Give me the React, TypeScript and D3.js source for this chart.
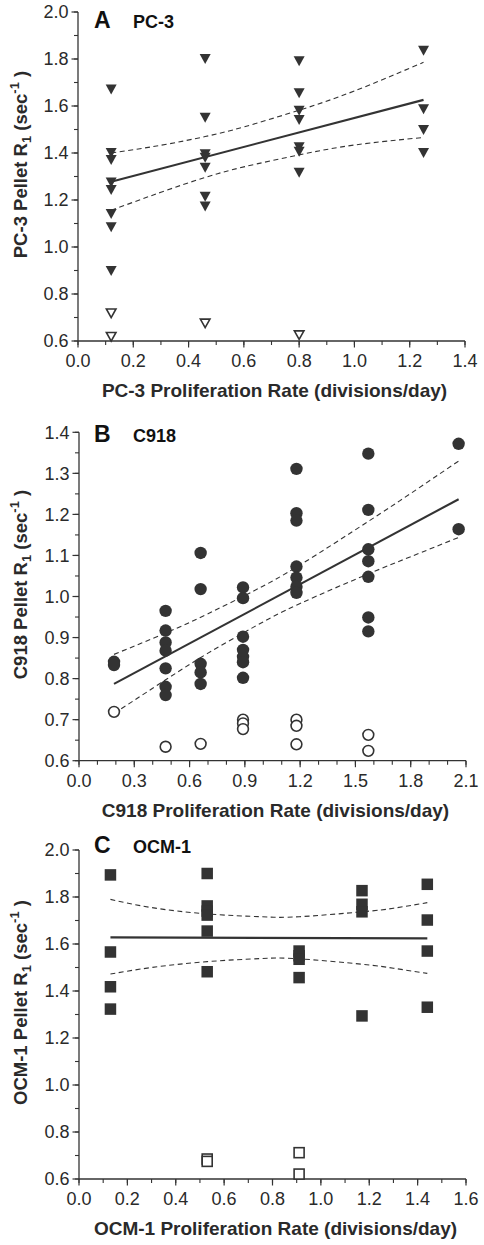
import React from "react";
import * as d3 from "d3";

// ---------- DATA ----------
// Panel A: PC-3
const pc3Rates = [0.12, 0.46, 0.8, 1.25];
const pc3Filled = [
  [1.67, 1.4, 1.37, 1.274, 1.243, 1.14, 1.084, 0.898],
  [1.8, 1.55, 1.395, 1.38, 1.337, 1.214, 1.172],
  [1.79, 1.654, 1.58, 1.54, 1.425, 1.405, 1.316],
  [1.835, 1.586, 1.498, 1.4],
];
const pc3Open = [[0.718, 0.618], [0.675], [0.625], []];
const pc3FitX = [0.12, 1.25];
const pc3FitY = [1.278, 1.626];
const pc3BandX = [0.12, 0.3, 0.46, 0.6, 0.8, 1.0, 1.25];
const pc3Upper = [1.4, 1.433, 1.47, 1.511, 1.582, 1.664, 1.786];
const pc3Lower = [1.156, 1.233, 1.296, 1.341, 1.392, 1.434, 1.466];

// Panel B: C918
const c918Rates = [0.19, 0.47, 0.66, 0.89, 1.18, 1.57, 2.06];
const c918Filled = [
  [0.841, 0.833],
  [0.965, 0.917, 0.888, 0.868, 0.825, 0.78, 0.76],
  [1.106, 1.018, 0.836, 0.815, 0.787],
  [1.022, 0.996, 0.902, 0.87, 0.853, 0.84, 0.802],
  [1.311, 1.203, 1.185, 1.073, 1.046, 1.024, 1.009],
  [1.348, 1.211, 1.115, 1.086, 1.048, 0.949, 0.915],
  [1.372, 1.164],
];
const c918Open = [[0.719], [0.634], [0.641], [0.7, 0.691, 0.677], [0.7, 0.685, 0.64], [0.663, 0.624], []];
const c918FitX = [0.19, 2.06];
const c918FitY = [0.787, 1.237];
const c918BandX = [0.19, 0.47, 0.7, 0.95, 1.2, 1.57, 1.8, 2.06];
const c918Upper = [0.859, 0.911, 0.958, 1.014, 1.077, 1.183, 1.251, 1.33];
const c918Lower = [0.715, 0.797, 0.862, 0.926, 0.983, 1.055, 1.097, 1.144];

// Panel C: OCM-1
const ocmRates = [0.13, 0.53, 0.91, 1.17, 1.44];
const ocmFilled = [
  [1.894, 1.566, 1.418, 1.323],
  [1.9, 1.762, 1.74, 1.723, 1.655, 1.482],
  [1.57, 1.55, 1.535, 1.457],
  [1.827, 1.769, 1.737, 1.294],
  [1.854, 1.702, 1.57, 1.331],
];
const ocmOpen = [[], [0.685, 0.675], [0.712, 0.621], [], []];
const ocmFitX = [0.13, 1.44];
const ocmFitY = [1.628, 1.624];
const ocmBandX = [0.13, 0.3, 0.53, 0.75, 0.91, 1.17, 1.3, 1.44];
const ocmUpper = [1.79, 1.755, 1.728, 1.716, 1.716, 1.737, 1.752, 1.776];
const ocmLower = [1.472, 1.5, 1.525, 1.538, 1.537, 1.514, 1.497, 1.475];

// Tick labels
const ticksA_x = [0, 0.2, 0.4, 0.6, 0.8, 1.0, 1.2, 1.4];
const ticksA_y = [0.6, 0.8, 1.0, 1.2, 1.4, 1.6, 1.8, 2.0];
const ticksB_x = [0, 0.3, 0.6, 0.9, 1.2, 1.5, 1.8, 2.1];
const ticksB_y = [0.6, 0.7, 0.8, 0.9, 1.0, 1.1, 1.2, 1.3, 1.4];
const ticksC_x = [0, 0.2, 0.4, 0.6, 0.8, 1.0, 1.2, 1.4, 1.6];
const ticksC_y = [0.6, 0.8, 1.0, 1.2, 1.4, 1.6, 1.8, 2.0];

// ---------- STYLE ----------
const FONT = "'Liberation Sans', Arial, Helvetica, sans-serif";
const INK = "#333333";
const TXT = "#2a2a2a";

type Panel = {
  letter: string;
  name: string;
  xTitle: string;
  yPrefix: string;
  box: { l: number; r: number; t: number; b: number };
  labelY: number;
  xDom: [number, number];
  yDom: [number, number];
  xTicks: number[];
  yTicks: number[];
  xMinor: number;
  yMinor: number;
  rates: number[];
  filled: number[][];
  open: number[][];
  fitX: number[];
  fitY: number[];
  bandX: number[];
  upper: number[];
  lower: number[];
  marker: "tri" | "circle" | "square";
};

const panels: Panel[] = [
  {
    letter: "A", name: "PC-3", xTitle: "PC-3 Proliferation Rate (divisions/day)", yPrefix: "PC-3",
    box: { l: 78, r: 465, t: 12, b: 341 }, labelY: 28,
    xDom: [0, 1.4], yDom: [0.6, 2.0], xTicks: ticksA_x, yTicks: ticksA_y, xMinor: 0.1, yMinor: 0.1,
    rates: pc3Rates, filled: pc3Filled, open: pc3Open, fitX: pc3FitX, fitY: pc3FitY,
    bandX: pc3BandX, upper: pc3Upper, lower: pc3Lower, marker: "tri",
  },
  {
    letter: "B", name: "C918", xTitle: "C918 Proliferation Rate (divisions/day)", yPrefix: "C918",
    box: { l: 79, r: 466, t: 432.3, b: 760.7 }, labelY: 441.7,
    xDom: [0, 2.1], yDom: [0.6, 1.4], xTicks: ticksB_x, yTicks: ticksB_y, xMinor: 0.1, yMinor: 0.05,
    rates: c918Rates, filled: c918Filled, open: c918Open, fitX: c918FitX, fitY: c918FitY,
    bandX: c918BandX, upper: c918Upper, lower: c918Lower, marker: "circle",
  },
  {
    letter: "C", name: "OCM-1", xTitle: "OCM-1 Proliferation Rate (divisions/day)", yPrefix: "OCM-1",
    box: { l: 79, r: 466, t: 850, b: 1179 }, labelY: 853,
    xDom: [0, 1.6], yDom: [0.6, 2.0], xTicks: ticksC_x, yTicks: ticksC_y, xMinor: 0.1, yMinor: 0.1,
    rates: ocmRates, filled: ocmFilled, open: ocmOpen, fitX: ocmFitX, fitY: ocmFitY,
    bandX: ocmBandX, upper: ocmUpper, lower: ocmLower, marker: "square",
  },
];

function Marker({ kind, cx, cy, filled }: { kind: string; cx: number; cy: number; filled: boolean }) {
  const fill = filled ? INK : "#ffffff";
  const sw = filled ? 0 : 1.6;
  if (kind === "tri") {
    const w = filled ? 11 : 9.6;
    const h = filled ? 10 : 8.6;
    const d = `M${cx - w / 2},${cy - h / 2}L${cx + w / 2},${cy - h / 2}L${cx},${cy + h / 2}Z`;
    return <path d={d} fill={fill} stroke={INK} strokeWidth={sw} strokeLinejoin="miter" />;
  }
  if (kind === "circle") {
    return <circle cx={cx} cy={cy} r={filled ? 6.2 : 5.4} fill={fill} stroke={INK} strokeWidth={sw} />;
  }
  const s = filled ? 11.5 : 10;
  return <rect x={cx - s / 2} y={cy - s / 2} width={s} height={s} fill={fill} stroke={INK} strokeWidth={sw} />;
}

function PanelView({ p }: { p: Panel }) {
  const { box } = p;
  const x = d3.scaleLinear().domain(p.xDom).range([box.l, box.r]);
  const y = d3.scaleLinear().domain(p.yDom).range([box.b, box.t]);
  const xMinorTicks = d3.range(p.xDom[0], p.xDom[1] + 1e-9, p.xMinor);
  const yMinorTicks = d3.range(p.yDom[0], p.yDom[1] + 1e-9, p.yMinor);
  const band = d3
    .line<number>()
    .x((_, i) => x(p.bandX[i]))
    .y((v) => y(v))
    .curve(d3.curveNatural);
  const fit = d3
    .line<number>()
    .x((_, i) => x(p.fitX[i]))
    .y((v) => y(v));
  const cyTitle = (box.t + box.b) / 2 - 12;
  const xCenter = (box.l + box.r) / 2 + 3;

  return (
    <g>
      {/* axes */}
      <line x1={box.l} x2={box.l} y1={box.t} y2={box.b} stroke={INK} strokeWidth={1.3} />
      <line x1={box.l} x2={box.r} y1={box.b} y2={box.b} stroke={INK} strokeWidth={1.3} />
      {yMinorTicks.map((v, i) => (
        <line key={"ym" + i} x1={box.l - 4} x2={box.l} y1={y(v)} y2={y(v)} stroke={INK} strokeWidth={1.1} />
      ))}
      {xMinorTicks.map((v, i) => (
        <line key={"xm" + i} x1={x(v)} x2={x(v)} y1={box.b} y2={box.b + 4} stroke={INK} strokeWidth={1.1} />
      ))}
      {p.yTicks.map((v, i) => (
        <g key={"yt" + i}>
          <line x1={box.l - 6.5} x2={box.l} y1={y(v)} y2={y(v)} stroke={INK} strokeWidth={1.2} />
          <text x={box.l - 9.5} y={y(v)} dy="0.36em" textAnchor="end" fontSize={18} fill={TXT} fontFamily={FONT}>
            {d3.format(".1f")(v)}
          </text>
        </g>
      ))}
      {p.xTicks.map((v, i) => (
        <g key={"xt" + i}>
          <line x1={x(v)} x2={x(v)} y1={box.b} y2={box.b + 6.5} stroke={INK} strokeWidth={1.2} />
          <text x={x(v)} y={box.b + 26} textAnchor="middle" fontSize={18} fill={TXT} fontFamily={FONT}>
            {d3.format(".1f")(v)}
          </text>
        </g>
      ))}
      {/* titles */}
      <text x={xCenter} y={box.b + 56} textAnchor="middle" fontSize={19} fontWeight="bold" fill={TXT} fontFamily={FONT}>
        {p.xTitle}
      </text>
      <text
        transform={`translate(27,${cyTitle}) rotate(-90)`}
        textAnchor="middle"
        fontSize={18.5}
        fontWeight="bold"
        fill={TXT}
        fontFamily={FONT}
      >
        <tspan>{p.yPrefix} Pellet R</tspan>
        <tspan dy={4} fontSize={13}>1</tspan>
        <tspan dy={-4}> (sec</tspan>
        <tspan dy={-8} fontSize={13}>-1</tspan>
        <tspan dy={8}> )</tspan>
      </text>
      <text x={94} y={p.labelY} fontSize={23} fontWeight="bold" fill="#111" fontFamily={FONT}>
        {p.letter}
      </text>
      <text x={133} y={p.labelY} fontSize={18} fontWeight="bold" fill="#111" fontFamily={FONT}>
        {p.name}
      </text>
      {/* confidence bands and fit */}
      <path d={band(p.upper) || ""} fill="none" stroke={INK} strokeWidth={1.1} strokeDasharray="5,3.5" />
      <path d={band(p.lower) || ""} fill="none" stroke={INK} strokeWidth={1.1} strokeDasharray="5,3.5" />
      <path d={fit(p.fitY) || ""} fill="none" stroke={INK} strokeWidth={2.1} />
      {/* points */}
      {p.rates.map((r, i) =>
        p.open[i].map((v, j) => (
          <Marker key={`o${i}-${j}`} kind={p.marker} cx={x(r)} cy={y(v)} filled={false} />
        ))
      )}
      {p.rates.map((r, i) =>
        p.filled[i].map((v, j) => (
          <Marker key={`f${i}-${j}`} kind={p.marker} cx={x(r)} cy={y(v)} filled={true} />
        ))
      )}
    </g>
  );
}

export default function App() {
  return (
    <svg
      width={484}
      height={1245}
      style={{ position: "absolute", left: 0, top: 0, background: "#ffffff" }}
      xmlns="http://www.w3.org/2000/svg"
    >
      <rect x={0} y={0} width={484} height={1245} fill="#ffffff" />
      {panels.map((p) => (
        <PanelView key={p.letter} p={p} />
      ))}
    </svg>
  );
}
